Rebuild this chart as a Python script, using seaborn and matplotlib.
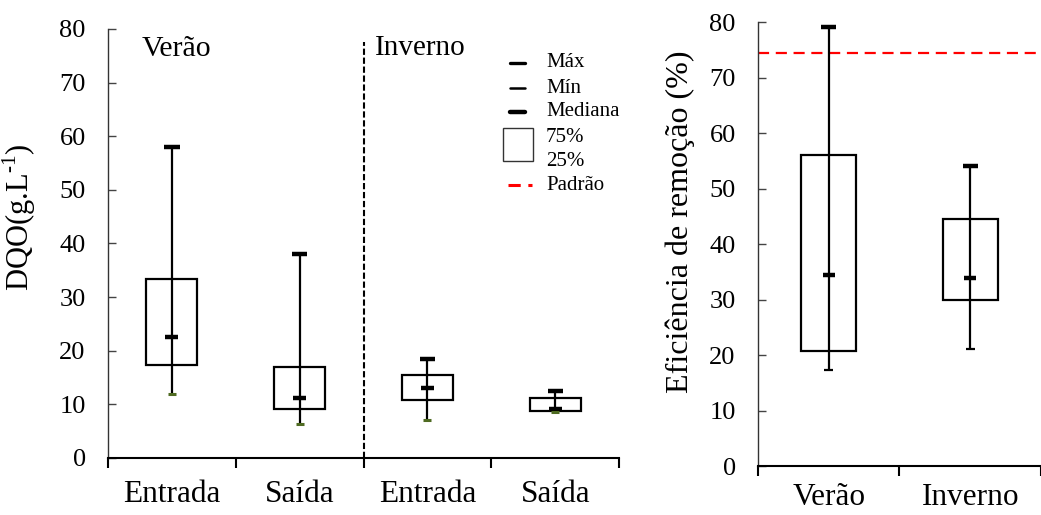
import numpy as np
import pandas as pd
import matplotlib
matplotlib.use("Agg")
import matplotlib.pyplot as plt
from matplotlib.patches import Rectangle
from matplotlib.lines import Line2D
import seaborn as sns

# ---- DQO (g/L) by season and sampling point ----
seasons = ["Verão", "Verão", "Inverno", "Inverno"]
points = ["Entrada", "Saída", "Entrada", "Saída"]
dqo_max = [58.0, 38.0, 18.4, 12.4]
dqo_q3 = [33.3, 17.0, 15.5, 11.2]
dqo_median = [22.6, 11.2, 13.1, 9.2]
dqo_q1 = [17.3, 9.1, 10.8, 8.8]
dqo_min = [11.9, 6.3, 7.1, 8.5]

# ---- Removal efficiency (%) by season ----
eff_seasons = ["Verão", "Inverno"]
eff_max = [79.1, 54.1]
eff_q3 = [56.0, 44.6]
eff_median = [34.4, 33.9]
eff_q1 = [20.8, 29.9]
eff_min = [17.3, 21.0]
eff_standard = 74.4

sns.set_theme(style="ticks")
plt.rcParams["font.family"] = ["Liberation Serif", "DejaVu Serif"]
plt.rcParams["mathtext.fontset"] = "custom"
plt.rcParams["mathtext.rm"] = "Liberation Serif"
for key in ["text.color", "axes.labelcolor", "xtick.color", "ytick.color"]:
    plt.rcParams[key] = "black"

MIN_GREEN = "#4f6b22"

fig = plt.figure(figsize=(10.41, 5.15), dpi=100)
ax1 = fig.add_axes([0.1037, 0.1107, 0.491, 0.833])
ax2 = fig.add_axes([0.728, 0.0951, 0.272, 0.862])


def draw_boxes(ax, keys, vmax, q3, med, q1, vmin, box_w, cap_max, cap_med,
               cap_min, min_color, min_lw):
    df = pd.DataFrame({"key": keys,
                       "span": np.array(q3) - np.array(q1),
                       "q1": q1})
    sns.barplot(data=df, x="key", y="span", order=keys, bottom=df["q1"].values,
                color="white", edgecolor="black", linewidth=1.6,
                width=box_w, errorbar=None, ax=ax, zorder=2)
    pos = np.arange(len(keys))
    ax.vlines(pos, vmin, vmax, color="black", lw=1.6, zorder=3)
    ax.hlines(vmax, pos - cap_max, pos + cap_max, color="black", lw=3.2, zorder=4)
    ax.hlines(med, pos - cap_med, pos + cap_med, color="black", lw=3.2, zorder=4)
    ax.hlines(vmin, pos - cap_min, pos + cap_min, color=min_color, lw=min_lw, zorder=4)


def style_axes(ax, n, labels, xlim, label_pad):
    ax.set_ylim(0, 80)
    ax.set_yticks(np.arange(0, 81, 10))
    ax.set_xlim(*xlim)
    ax.set_xticks(np.arange(n + 1) - 0.5)
    ax.set_xticklabels([])
    ax.set_xticks(np.arange(n), minor=True)
    ax.set_xticklabels(labels, minor=True, fontsize=22.5)
    ax.tick_params(axis="x", which="major", direction="out", length=7,
                   width=1.5, color="black")
    ax.tick_params(axis="x", which="minor", length=0, pad=label_pad)
    ax.tick_params(axis="y", direction="in", length=6, width=1, color="#444444",
                   labelsize=19, pad=16)
    for s in ["top", "right"]:
        ax.spines[s].set_visible(False)
    ax.spines["left"].set_color("#333333")
    ax.spines["bottom"].set_color("black")
    ax.spines["bottom"].set_linewidth(1.5)
    ax.spines["left"].set_linewidth(1.0)
    ax.set_xlabel("")
    ax.set_facecolor("white")


# ---- left panel ----
keys = [f"{s} {p}" for s, p in zip(seasons, points)]
draw_boxes(ax1, keys, dqo_max, dqo_q3, dqo_median, dqo_q1, dqo_min,
           box_w=0.4, cap_max=0.06, cap_med=0.05, cap_min=0.032,
           min_color=MIN_GREEN, min_lw=2.2)
style_axes(ax1, 4, points, (-0.5, 3.5), 16)
ax1.set_ylabel("DQO(g.L$^{\\mathregular{\u2010}1}$)", fontsize=22)
ax1.yaxis.set_label_coords(-0.137, 0.56)
ax1.vlines(1.5, 0, 77.6, color="black", lw=1.5, linestyles=(0, (3, 1.3)), zorder=1)
ax1.text(0.066, 0.953, "Verão", transform=ax1.transAxes, fontsize=21.5,
         ha="left", va="center")
ax1.text(0.522, 0.955, "Inverno", transform=ax1.transAxes, fontsize=21,
         ha="left", va="center")

# legend drawn in axes fraction
leg_x0, leg_x1 = 0.786, 0.815
text_x = 0.857
rows = {"Máx": 0.921, "Mín": 0.862, "Mediana": 0.807,
        "75%": 0.748, "25%": 0.690, "Padrão": 0.636}
for lbl, lw in [("Máx", 2.4), ("Mín", 1.8), ("Mediana", 3.2)]:
    ax1.add_line(Line2D([leg_x0, leg_x1], [rows[lbl]] * 2, color="black", lw=lw,
                        transform=ax1.transAxes))
ax1.add_patch(Rectangle((0.773, 0.692), 0.059, 0.077, transform=ax1.transAxes,
                        facecolor="white", edgecolor="#333333", lw=1.0))
ax1.add_line(Line2D([0.782, 0.829], [rows["Padrão"]] * 2, color="red", lw=2.2,
                    linestyle=(0, (4, 2.5)), transform=ax1.transAxes))
for lbl, yy in rows.items():
    ax1.text(text_x, yy, lbl, transform=ax1.transAxes, fontsize=15,
             ha="left", va="center")

# ---- right panel ----
draw_boxes(ax2, eff_seasons, eff_max, eff_q3, eff_median, eff_q1, eff_min,
           box_w=0.39, cap_max=0.052, cap_med=0.042, cap_min=0.032,
           min_color="black", min_lw=1.6)
style_axes(ax2, 2, eff_seasons, (-0.5, 1.45), 12)
ax2.axhline(eff_standard, color="red", lw=1.6, linestyle=(0, (5, 3)), zorder=1)
ax2.set_ylabel("Eficiência de remoção (%)", fontsize=23)
ax2.yaxis.set_label_coords(-0.223, 0.55)

fig.savefig("out.png", dpi=100, facecolor="white")
